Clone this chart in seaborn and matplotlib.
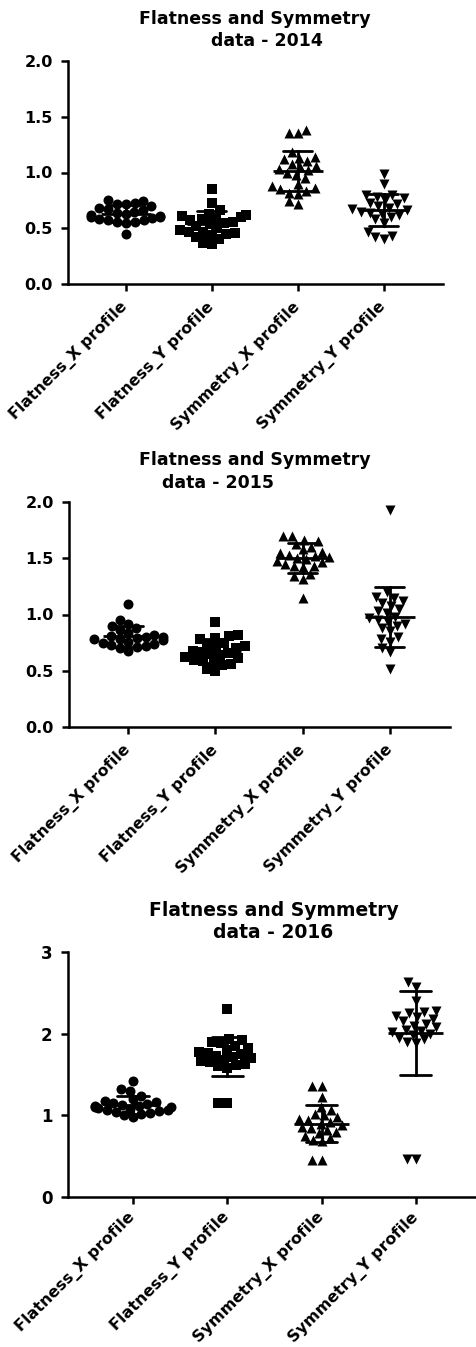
import numpy as np
import pandas as pd
import matplotlib
matplotlib.use("Agg")
import matplotlib.pyplot as plt
import seaborn as sns

categories = ["Flatness_X profile", "Flatness_Y profile", "Symmetry_X profile", "Symmetry_Y profile"]
years = ["2014", "2015", "2016"]

fx_2014 = [0.75, 0.74, 0.73, 0.72, 0.72, 0.70, 0.68, 0.67, 0.66, 0.65, 0.64, 0.63,
           0.62, 0.61, 0.60, 0.60, 0.59, 0.58, 0.57, 0.57, 0.56, 0.56, 0.55, 0.45]
fy_2014 = [0.85, 0.73, 0.66, 0.63, 0.62, 0.61, 0.60, 0.59, 0.58, 0.57, 0.56, 0.55,
           0.54, 0.52, 0.50, 0.48, 0.47, 0.47, 0.46, 0.45, 0.44, 0.42, 0.40, 0.37, 0.36]
sx_2014 = [1.38, 1.35, 1.35, 1.18, 1.14, 1.13, 1.12, 1.10, 1.08, 1.06, 1.05, 1.03,
           1.02, 1.00, 0.98, 0.95, 0.90, 0.88, 0.86, 0.85, 0.83, 0.82, 0.81, 0.74, 0.72]
sy_2014 = [0.99, 0.90, 0.80, 0.80, 0.78, 0.77, 0.75, 0.73, 0.72, 0.70, 0.68, 0.67,
           0.66, 0.65, 0.64, 0.63, 0.62, 0.60, 0.58, 0.55, 0.47, 0.43, 0.42, 0.40]

fx_2015 = [1.09, 0.95, 0.92, 0.90, 0.88, 0.86, 0.84, 0.82, 0.81, 0.80, 0.80, 0.79,
           0.78, 0.78, 0.77, 0.76, 0.75, 0.74, 0.73, 0.72, 0.71, 0.70, 0.68]
fy_2015 = [0.93, 0.82, 0.81, 0.79, 0.78, 0.75, 0.73, 0.72, 0.71, 0.70, 0.68, 0.67,
           0.66, 0.65, 0.64, 0.62, 0.61, 0.60, 0.59, 0.58, 0.56, 0.55, 0.52, 0.50]
sx_2015 = [1.70, 1.70, 1.66, 1.65, 1.63, 1.60, 1.58, 1.56, 1.55, 1.53, 1.52, 1.51,
           1.50, 1.49, 1.48, 1.47, 1.45, 1.43, 1.43, 1.42, 1.36, 1.34, 1.32, 1.15]
sy_2015 = [1.93, 1.20, 1.16, 1.15, 1.12, 1.10, 1.08, 1.05, 1.03, 1.01, 0.98, 0.97,
           0.95, 0.93, 0.92, 0.90, 0.88, 0.85, 0.80, 0.78, 0.76, 0.70, 0.67, 0.52]

fx_2016 = [1.42, 1.32, 1.30, 1.24, 1.20, 1.18, 1.16, 1.15, 1.14, 1.13, 1.12, 1.11,
           1.10, 1.10, 1.09, 1.08, 1.07, 1.06, 1.05, 1.04, 1.03, 1.02, 1.00, 0.98]
fy_2016 = [2.30, 1.93, 1.92, 1.90, 1.88, 1.85, 1.82, 1.80, 1.78, 1.76, 1.75, 1.73,
           1.72, 1.70, 1.68, 1.66, 1.65, 1.63, 1.62, 1.60, 1.58, 1.15, 1.15]
sx_2016 = [1.36, 1.36, 1.22, 1.10, 1.06, 1.02, 1.00, 0.98, 0.96, 0.94, 0.92, 0.90,
           0.88, 0.86, 0.84, 0.82, 0.80, 0.78, 0.75, 0.72, 0.70, 0.68, 0.45, 0.45]
sy_2016 = [2.63, 2.57, 2.40, 2.28, 2.26, 2.25, 2.22, 2.20, 2.18, 2.15, 2.12, 2.10,
           2.08, 2.05, 2.03, 2.02, 2.00, 1.98, 1.95, 1.93, 1.90, 1.88, 0.46, 0.46]

yticks_a = [0.0, 0.5, 1.0, 1.5, 2.0]
ytick_labels_a = ["0.0", "0.5", "1.0", "1.5", "2.0"]
yticks_b = [0, 1, 2, 3]
ytick_labels_b = ["0", "1", "2", "3"]

panels = [
    dict(year="2014", data=[fx_2014, fy_2014, sx_2014, sy_2014], yt=yticks_a, ytl=ytick_labels_a, ylim=(0, 2)),
    dict(year="2015", data=[fx_2015, fy_2015, sx_2015, sy_2015], yt=yticks_a, ytl=ytick_labels_a, ylim=(0, 2)),
    dict(year="2016", data=[fx_2016, fy_2016, sx_2016, sy_2016], yt=yticks_b, ytl=ytick_labels_b, ylim=(0, 3)),
]
markers = ["o", "s", "^", "v"]

sns.set_style("ticks")
plt.rcParams["font.family"] = ["DejaVu Sans"]
plt.rcParams["font.weight"] = "bold"
for k in ["text.color", "axes.labelcolor", "xtick.color", "ytick.color", "axes.edgecolor"]:
    plt.rcParams[k] = "black"

W, H = 477, 1347
fig = plt.figure(figsize=(W / 100, H / 100), dpi=100)

rects = [(68, 443, 61, 284), (69, 450, 502, 727), (68, 477, 952, 1197)]
xlims = [(-0.67, 3.69), (-0.68, 3.69), (-0.69, 3.65)]
title_pos = [((255, 19), (267, 41)), ((255, 460), (218, 483)), ((274, 910), (273, 933))]
title_size = [12.5, 12.5, 13.5]
xlab_size = [11.3, 11.3, 11.5]
ylab_size = [11.5, 11.5, 12]
xlab_pad = [10, 10, 8]

axes = []
for p, (l, r, t, b), xl, tp, ts, xs, ys, xp in zip(panels, rects, xlims, title_pos,
                                                    title_size, xlab_size, ylab_size, xlab_pad):
    ax = fig.add_axes([l / W, 1 - b / H, (r - l) / W, (b - t) / H])
    axes.append(ax)
    rows = []
    for cat, vals in zip(categories, p["data"]):
        for v in vals:
            rows.append((cat, v))
    df = pd.DataFrame(rows, columns=["cat", "val"])
    for cat, m in zip(categories, markers):
        sub = df[df["cat"] == cat]
        sns.swarmplot(data=sub, x="cat", y="val", order=categories, marker=m,
                      color="black", size=6.2, linewidth=0, ax=ax, zorder=2,
                      warn_thresh=1.0)
    sns.pointplot(data=df, x="cat", y="val", order=categories, errorbar="sd",
                  capsize=0.33, color="black", linestyle="none", marker="",
                  err_kws={"linewidth": 2.0}, ax=ax, zorder=5)
    means = df.groupby("cat")["val"].mean().reindex(categories)
    ax.hlines(means.values, np.arange(4) - 0.29, np.arange(4) + 0.29,
              colors="black", linewidth=2.0, zorder=6)
    ax.set_xlim(*xl)
    ax.set_ylim(*p["ylim"])
    ax.set_yticks(p["yt"])
    ax.set_yticklabels(p["ytl"], fontsize=ys, fontweight="bold")
    ax.set_xticks(range(len(categories)))
    ax.set_xticklabels(categories, rotation=45, ha="right", va="center",
                       rotation_mode="anchor", fontsize=xs, fontweight="bold")
    ax.set_xlabel("")
    ax.set_ylabel("")
    for s in ["top", "right"]:
        ax.spines[s].set_visible(False)
    for s in ["left", "bottom"]:
        ax.spines[s].set_linewidth(1.8)
        ax.spines[s].set_color("black")
    ax.tick_params(axis="both", length=5, width=1.8, colors="black", direction="out")
    ax.tick_params(axis="x", pad=xp)
    ax.tick_params(axis="y", pad=6)
    ax.set_facecolor("white")
    (x1, y1), (x2, y2) = tp
    fig.text(x1 / W, 1 - y1 / H, "Flatness and Symmetry", ha="center", va="center",
             fontsize=ts, fontweight="bold", color="black")
    fig.text(x2 / W, 1 - y2 / H, "data - " + p["year"], ha="center", va="center",
             fontsize=ts, fontweight="bold", color="black")

# compute swarm layout with slightly smaller markers, then freeze it and enlarge markers
fig.canvas.draw()
for ax in axes:
    for coll in ax.collections:
        if "draw" in coll.__dict__:
            del coll.__dict__["draw"]
            coll.set_sizes([7.2 ** 2])

fig.savefig("out.png", dpi=100, facecolor="white")
